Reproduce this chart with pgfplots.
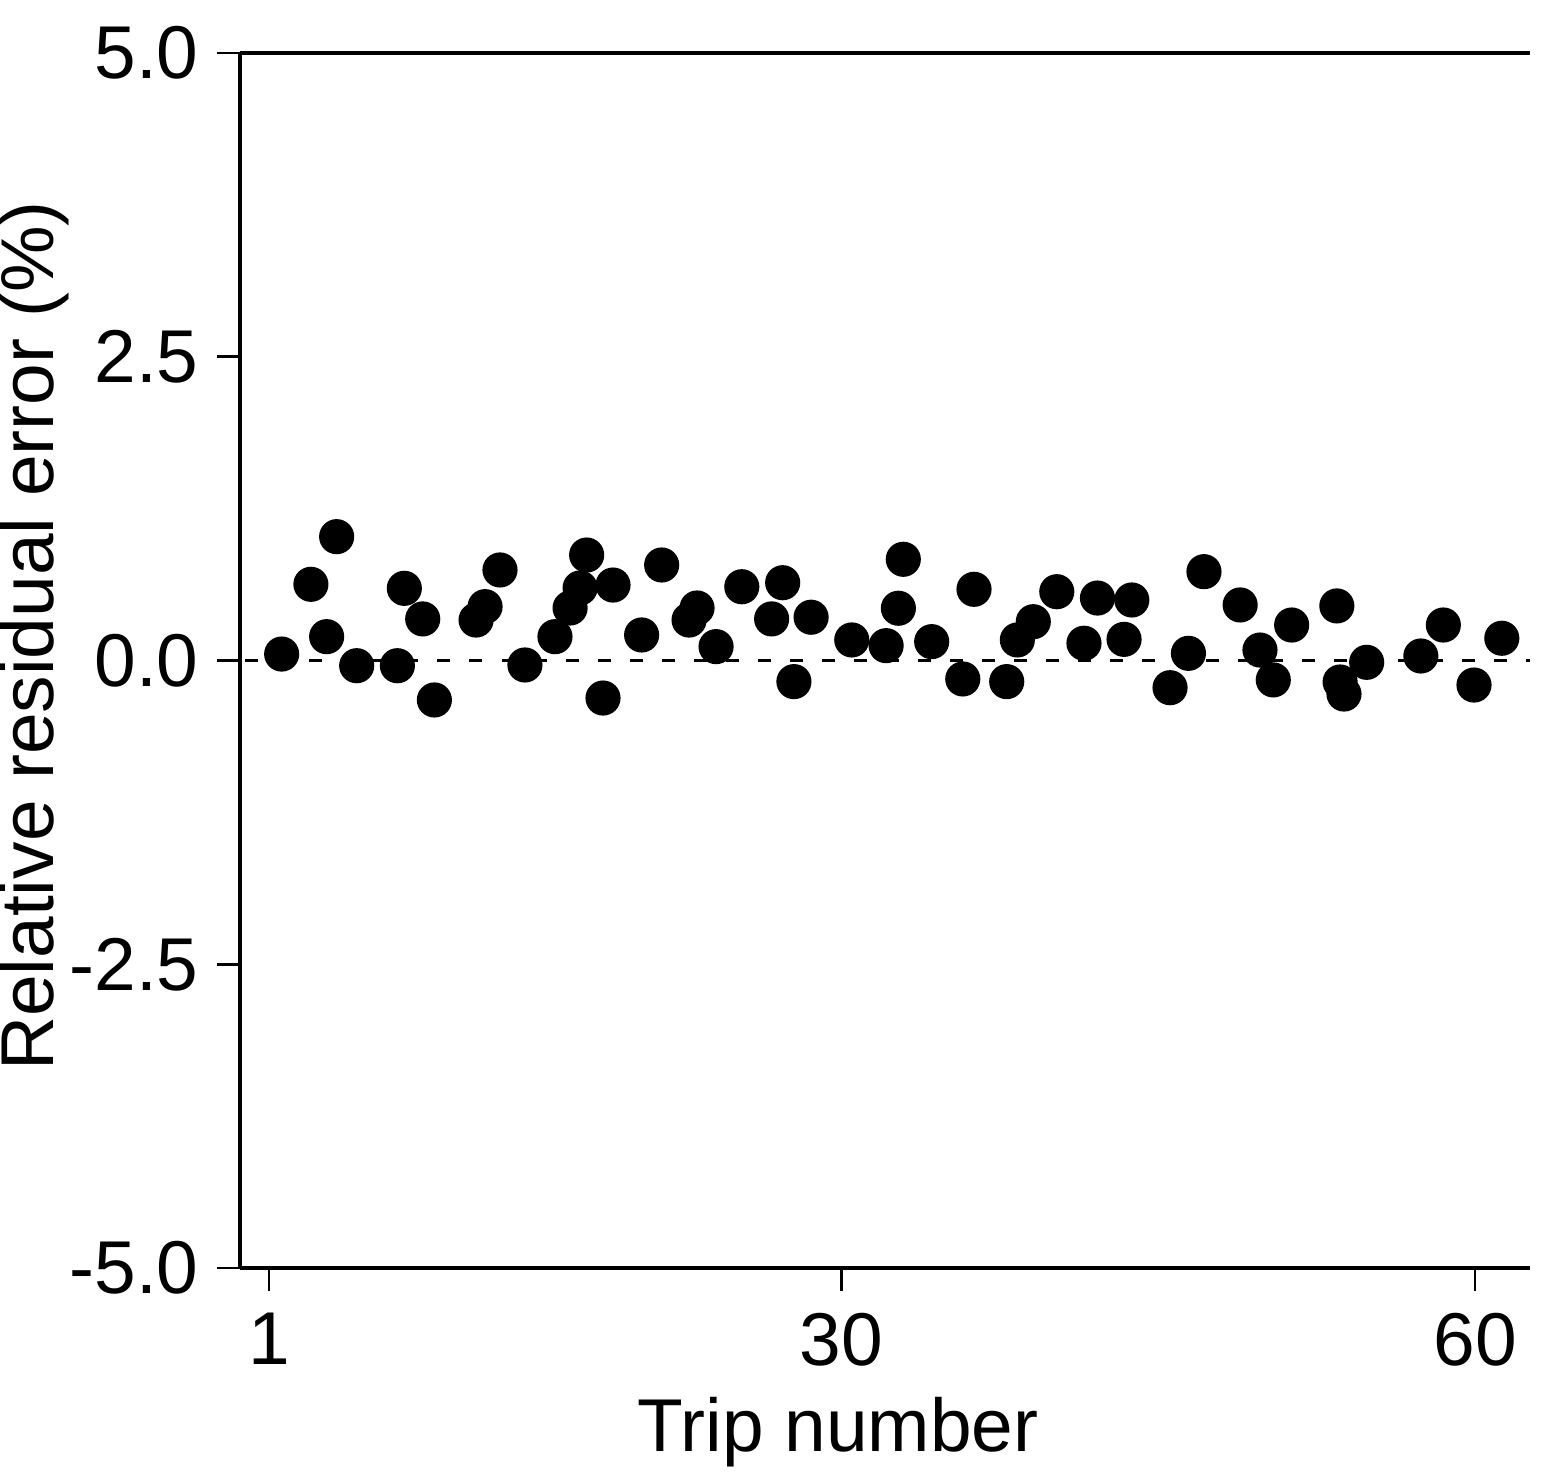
\documentclass[border=0pt]{standalone}
\usepackage{fontspec}
\setmainfont{Liberation Sans}
\usepackage{pgfplots}
\pgfplotsset{compat=1.18}

\newcommand{\lblfont}{\fontsize{21.3}{25}\selectfont}

\begin{document}
\begin{tikzpicture}
\path[use as bounding box] (-2.40,-2.04) rectangle (13.03,12.68);
\begin{axis}[
  at={(0,0)}, anchor=south west,
  scale only axis, width=12.9cm, height=12.15cm,
  xmin=-0.419, xmax=62.69, ymin=-5, ymax=5,
  axis lines=left,
  axis line style={-, line width=1.4pt, black},
  xtick={1,29,60}, xticklabels={1,30,60},
  ytick={-5,-2.5,0,2.5,5}, yticklabels={-5.0,-2.5,0.0,2.5,5.0},
  tick align=outside, major tick length=0.23cm,
  tick style={line width=0.8pt, black},
  tick label style={font=\lblfont},
  yticklabel style={xshift=-0.06cm},
  xticklabel style={yshift=-0.1cm},
  clip=false,
]
% zero reference line
\addplot[black, line width=1.1pt, dash pattern=on 0.13cm off 0.19cm] coordinates {(-0.15,0) (62.69,0)};
% residuals
\addplot[only marks, mark=*, mark size=4.8pt, black] coordinates {
(1.62,0.053) (3.05,0.627) (3.82,0.196) (4.31,1.019) (5.29,-0.043)
(7.28,-0.043) (7.62,0.594) (8.52,0.342) (9.09,-0.325) (11.13,0.333)
(11.57,0.443) (12.30,0.745) (13.52,-0.037) (14.99,0.196) (15.73,0.432)
(16.22,0.597) (16.54,0.868) (17.34,-0.309) (17.83,0.621) (19.23,0.210)
(20.21,0.786) (21.55,0.333) (21.94,0.432) (22.87,0.114) (24.13,0.607)
(25.59,0.342) (26.13,0.640) (26.68,-0.174) (27.52,0.356) (29.51,0.169)
(31.19,0.122) (31.79,0.430) (32.03,0.833) (33.42,0.155) (34.94,-0.152)
(35.49,0.586) (37.09,-0.174) (37.61,0.169) (38.39,0.319) (39.54,0.566)
(40.87,0.142) (41.53,0.514) (42.83,0.174) (43.21,0.498) (45.08,-0.224)
(45.98,0.059) (46.74,0.731) (48.51,0.457) (49.48,0.086) (50.13,-0.160)
(51.03,0.292) (53.24,0.449) (53.40,-0.177) (53.59,-0.276) (54.70,-0.015)
(57.35,0.037) (58.45,0.292) (59.95,-0.202) (61.31,0.183)
};
\draw[black, line width=1.4pt] (rel axis cs:0,1) -- (rel axis cs:1,1);
\end{axis}
\node[anchor=base, font=\lblfont] at (5.98,-1.84) {Trip number};
\node[rotate=90, anchor=base, font=\lblfont] at (-1.86,6.32) {Relative residual error (\%)};
\end{tikzpicture}
\end{document}
